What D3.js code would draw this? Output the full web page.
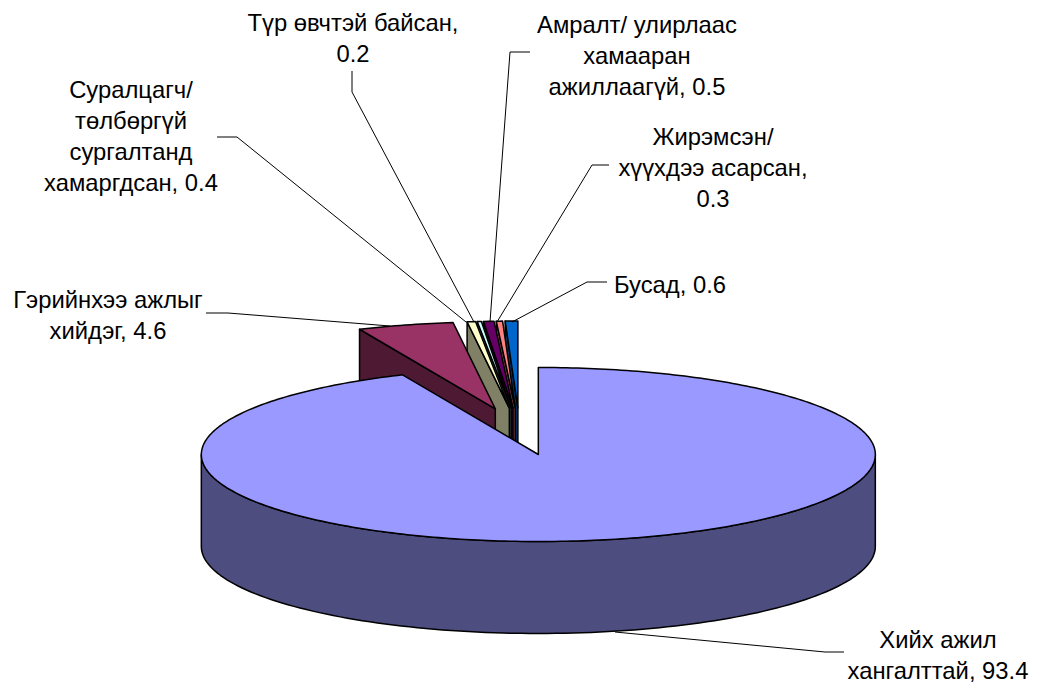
<!DOCTYPE html>
<html><head><meta charset="utf-8">
<script src="https://d3js.org/d3.v7.min.js"></script>
<style>html,body{margin:0;padding:0;background:#fff}svg{display:block}
text{font-family:"Liberation Sans",Arial,sans-serif;font-size:23.8px;fill:#000}</style></head>
<body><svg id="c" width="1037" height="685"></svg>
<script>
const categories = ["Хийх ажил хангалттай","Гэрийнхээ ажлыг хийдэг","Суралцагч/ төлбөргүй сургалтанд хамрагдсан","Түр өвчтэй байсан","Амралт/ улирлаас хамааран ажиллаагүй","Жирэмсэн/ хүүхдээ асарсан","Бусад"];
const values = [93.4,4.6,0.4,0.2,0.5,0.3,0.6];
const topColors = ["#9999FF","#993366","#FFFFCC","#CCFFFF","#660066","#FF8080","#0066CC"];
const sideColors = ["#4D4D80","#4D1933","#808066","#668080","#330033","#804040","#003366"];
const labelLines = [["Хийх ажил","хангалттай, 93.4"],["Гэрийнхээ ажлыг","хийдэг, 4.6"],["Суралцагч/","төлбөргүй","сургалтанд","хамаргдсан, 0.4"],["Түр өвчтэй байсан,","0.2"],["Амралт/ улирлаас","хамааран","ажиллаагүй, 0.5"],["Жирэмсэн/","хүүхдээ асарсан,","0.3"],["Бусад, 0.6"]];
const labelAnchors = [[938,648],[108,308],[131,98],[353,31],[637,33],[713,145],[670,293]];
const leaders = [[[615,632],[825,652],[844,652]],[[206,313],[228,313],[390,326]],[[217,137],[237,137],[466,322]],[[352,71],[352,92],[474,322]],[[530,52],[510,52],[490,322]],[[609,165],[592,165],[497,322]],[[607,282],[587,282],[512,322]]];

const cx=519.6, cy=431.5, rx=337, ry=87, depth=92, explode=0.27, lineH=31;
const x=d3.scaleLinear().domain([-1,1]).range([cx-rx,cx+rx]);
const y=d3.scaleLinear().domain([-1,1]).range([cy-ry,cy+ry]);
const svg=d3.select("#c");
const arcs=d3.pie().sort(null).startAngle(0).endAngle(2*Math.PI)(values);
const line=d3.line();
function ring(a,off){return [x(off.u+Math.sin(a)),y(off.v-Math.cos(a))];}
function pts(d,off){const n=Math.max(2,Math.ceil((d.endAngle-d.startAngle)*60));
  return d3.range(n+1).map(i=>ring(d.startAngle+(d.endAngle-d.startAngle)*i/n,off));}
arcs.forEach(d=>{const m=(d.startAngle+d.endAngle)/2;d.off={u:explode*Math.sin(m),v:-explode*Math.cos(m)};});
function draw(p,fill){svg.append("path").attr("d",line(p)+"Z").attr("fill",fill)
  .attr("stroke","#000").attr("stroke-width",1.5).attr("stroke-linejoin","round");}
function topFace(d,i){const a=[x(d.off.u),y(d.off.v)];draw([a,...pts(d,d.off)],topColors[i]);}
function cutWall(d,i){
  const a=[x(d.off.u),y(d.off.v)],b=ring(d.startAngle,d.off);
  draw([b,a,[a[0],a[1]+depth],[b[0],b[1]+depth]],sideColors[i]);}
for(let i=arcs.length-1;i>=2;i--){cutWall(arcs[i],i);topFace(arcs[i],i);}
cutWall(arcs[1],1);topFace(arcs[1],1);
const main=arcs[0];
const rim=d3.range(0,121).map(i=>ring(Math.PI/2+Math.PI*i/120,main.off));
draw([...rim,...rim.slice().reverse().map(p=>[p[0],p[1]+depth])],sideColors[0]);
topFace(main,0);
svg.append("g").selectAll("path").data(leaders).join("path").attr("d",d=>line(d)).attr("fill","none").attr("stroke","#000").attr("stroke-width",1);
labelLines.forEach((ls,i)=>{ls.forEach((t,j)=>svg.append("text").attr("x",labelAnchors[i][0]).attr("y",labelAnchors[i][1]+j*lineH).attr("text-anchor","middle").text(t));});
</script></body></html>
